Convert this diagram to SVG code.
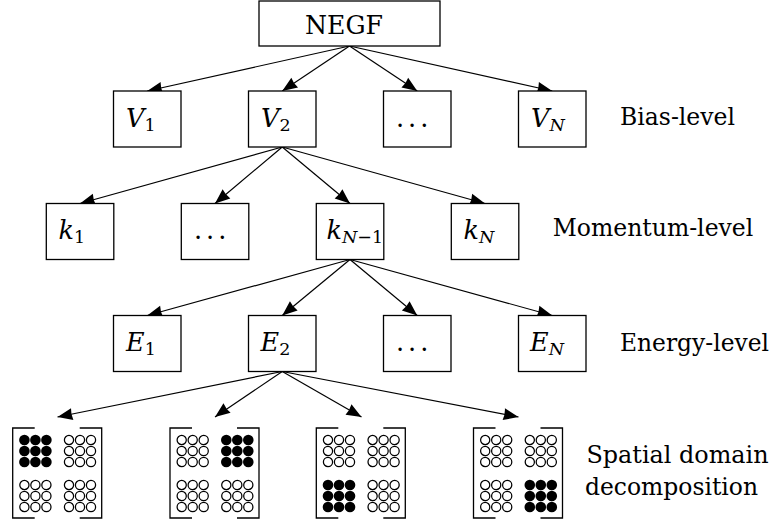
<svg xmlns="http://www.w3.org/2000/svg" width="776" height="522" viewBox="0 0 776 522">
  <style>
    .box { fill: #fff; stroke: #000; stroke-width: 1.3; }
    .edge { fill: none; stroke: #000; stroke-width: 1.2; }
    .brk { fill: none; stroke: #000; stroke-width: 1.3; }
    .tx { font-family: "DejaVu Serif", serif; font-size: 25.5px; fill: #000; }
    .lbl { font-size: 23.5px; }
    .m { font-style: italic; }
    .sub { font-size: 17.5px; font-style: normal; }
    .subi { font-size: 17.5px; font-style: italic; }
    .oc { fill: #fff; stroke: #000; stroke-width: 1.25; }
    .fc { fill: #000; }
    .head { fill: #000; stroke: none; }
  </style>
  <defs>
    <!-- 3x3 block of open sites -->
    <g id="open9">
      <circle class="oc" cx="0" cy="0" r="4.6"/><circle class="oc" cx="11" cy="0" r="4.6"/><circle class="oc" cx="22" cy="0" r="4.6"/>
      <circle class="oc" cx="0" cy="11" r="4.6"/><circle class="oc" cx="11" cy="11" r="4.6"/><circle class="oc" cx="22" cy="11" r="4.6"/>
      <circle class="oc" cx="0" cy="22" r="4.6"/><circle class="oc" cx="11" cy="22" r="4.6"/><circle class="oc" cx="22" cy="22" r="4.6"/>
    </g>
    <!-- 3x3 block of filled (active) sites -->
    <g id="fill9">
      <circle class="fc" cx="0" cy="0" r="5.3"/><circle class="fc" cx="11" cy="0" r="5.3"/><circle class="fc" cx="22" cy="0" r="5.3"/>
      <circle class="fc" cx="0" cy="11" r="5.3"/><circle class="fc" cx="11" cy="11" r="5.3"/><circle class="fc" cx="22" cy="11" r="5.3"/>
      <circle class="fc" cx="0" cy="22" r="5.3"/><circle class="fc" cx="11" cy="22" r="5.3"/><circle class="fc" cx="22" cy="22" r="5.3"/>
    </g>
    <!-- matrix brackets -->
    <path id="brackets" d="M22,0 H0 V90 H22 M67,0 H89 V90 H67"/>
    <!-- arrow tip, pointing along +x with the tip at the origin -->
    <path id="tip" d="M-15,-6 Q-13.5,0 -15,6 L0,0 Z"/>
  </defs>

  <!-- connectors: shafts, then tips rotated into place -->
  <g id="connectors">
    <g class="edge">
      <line x1="349.5" y1="46" x2="147.25" y2="91"/>
      <line x1="349.5" y1="46" x2="282.25" y2="91"/>
      <line x1="349.5" y1="46" x2="417.25" y2="91"/>
      <line x1="349.5" y1="46" x2="552.25" y2="91"/>
      <line x1="282.25" y1="147" x2="80" y2="203.5"/>
      <line x1="282.25" y1="147" x2="215" y2="203.5"/>
      <line x1="282.25" y1="147" x2="350" y2="203.5"/>
      <line x1="282.25" y1="147" x2="485" y2="203.5"/>
      <line x1="350" y1="259.5" x2="147.25" y2="315.5"/>
      <line x1="350" y1="259.5" x2="282.25" y2="315.5"/>
      <line x1="350" y1="259.5" x2="417.25" y2="315.5"/>
      <line x1="350" y1="259.5" x2="552.25" y2="315.5"/>
      <line x1="282.25" y1="371.5" x2="57.5" y2="417"/>
      <line x1="282.25" y1="371.5" x2="215" y2="417"/>
      <line x1="282.25" y1="371.5" x2="361.5" y2="417"/>
      <line x1="282.25" y1="371.5" x2="518.5" y2="417"/>
    </g>
    <g class="head">
      <use href="#tip" transform="translate(147.25,91) rotate(167.46)"/>
      <use href="#tip" transform="translate(282.25,91) rotate(146.06)"/>
      <use href="#tip" transform="translate(417.25,91) rotate(33.94)"/>
      <use href="#tip" transform="translate(552.25,91) rotate(12.54)"/>
      <use href="#tip" transform="translate(80,203.5) rotate(164.39)"/>
      <use href="#tip" transform="translate(215,203.5) rotate(139.91)"/>
      <use href="#tip" transform="translate(350,203.5) rotate(40.09)"/>
      <use href="#tip" transform="translate(485,203.5) rotate(15.61)"/>
      <use href="#tip" transform="translate(147.25,315.5) rotate(164.56)"/>
      <use href="#tip" transform="translate(282.25,315.5) rotate(140.19)"/>
      <use href="#tip" transform="translate(417.25,315.5) rotate(39.81)"/>
      <use href="#tip" transform="translate(552.25,315.5) rotate(15.44)"/>
      <use href="#tip" transform="translate(57.5,417) rotate(168.56)"/>
      <use href="#tip" transform="translate(215,417) rotate(143.39)"/>
      <use href="#tip" transform="translate(361.5,417) rotate(29.91)"/>
      <use href="#tip" transform="translate(518.5,417) rotate(10.91)"/>
    </g>
  </g>

  <!-- root -->
  <g id="negf">
    <rect class="box" x="259" y="1" width="181" height="45"/>
    <text class="tx" x="305" y="34" textLength="78" lengthAdjust="spacingAndGlyphs">NEGF</text>
  </g>

  <!-- bias level -->
  <g id="v1">
    <rect class="box" x="113.5" y="91" width="67.5" height="56"/>
    <text class="tx" x="126" y="127"><tspan class="m">V</tspan><tspan class="sub" dy="4">1</tspan></text>
  </g>
  <g id="v2">
    <rect class="box" x="248.5" y="91" width="67.5" height="56"/>
    <text class="tx" x="261" y="127"><tspan class="m">V</tspan><tspan class="sub" dy="4">2</tspan></text>
  </g>
  <g id="vdots">
    <rect class="box" x="383.5" y="91" width="67.5" height="56"/>
    <text class="tx" x="396" y="127" letter-spacing="4">...</text>
  </g>
  <g id="vN">
    <rect class="box" x="518.5" y="91" width="67.5" height="56"/>
    <text class="tx" x="531" y="127"><tspan class="m">V</tspan><tspan class="subi" dy="4">N</tspan></text>
  </g>
  <g id="bias-label">
    <text class="tx lbl" x="620" y="125" textLength="115" lengthAdjust="spacingAndGlyphs">Bias-level</text>
  </g>

  <!-- momentum level -->
  <g id="k1">
    <rect class="box" x="46.3" y="203.5" width="67.5" height="56"/>
    <text class="tx" x="58.5" y="239"><tspan class="m">k</tspan><tspan class="sub" dy="4">1</tspan></text>
  </g>
  <g id="kdots">
    <rect class="box" x="181.3" y="203.5" width="67.5" height="56"/>
    <text class="tx" x="194" y="239" letter-spacing="4">...</text>
  </g>
  <g id="kNm1">
    <rect class="box" x="316.3" y="203.5" width="67.5" height="56"/>
    <text class="tx" x="326.5" y="239"><tspan class="m">k</tspan><tspan class="subi" dy="4">N</tspan><tspan class="sub">−1</tspan></text>
  </g>
  <g id="kN">
    <rect class="box" x="451.3" y="203.5" width="67.5" height="56"/>
    <text class="tx" x="463.5" y="239"><tspan class="m">k</tspan><tspan class="subi" dy="4">N</tspan></text>
  </g>
  <g id="momentum-label">
    <text class="tx lbl" x="552.7" y="236" textLength="200.6" lengthAdjust="spacingAndGlyphs">Momentum-level</text>
  </g>

  <!-- energy level -->
  <g id="e1">
    <rect class="box" x="113.5" y="315.5" width="67.5" height="56"/>
    <text class="tx" x="126" y="351"><tspan class="m">E</tspan><tspan class="sub" dy="4">1</tspan></text>
  </g>
  <g id="e2">
    <rect class="box" x="248.5" y="315.5" width="67.5" height="56"/>
    <text class="tx" x="260.5" y="351"><tspan class="m">E</tspan><tspan class="sub" dy="4">2</tspan></text>
  </g>
  <g id="edots">
    <rect class="box" x="383.5" y="315.5" width="67.5" height="56"/>
    <text class="tx" x="396" y="351" letter-spacing="4">...</text>
  </g>
  <g id="eN">
    <rect class="box" x="518.5" y="315.5" width="67.5" height="56"/>
    <text class="tx" x="530" y="351"><tspan class="m">E</tspan><tspan class="subi" dy="4">N</tspan></text>
  </g>
  <g id="energy-label">
    <text class="tx lbl" x="620" y="350.5" textLength="149" lengthAdjust="spacingAndGlyphs">Energy-level</text>
  </g>

  <g id="spatial-label">
    <text class="tx lbl" x="586.5" y="463" textLength="182" lengthAdjust="spacingAndGlyphs">Spatial domain</text>
    <text class="tx lbl" x="585" y="495" textLength="173" lengthAdjust="spacingAndGlyphs">decomposition</text>
  </g>

  <!-- spatial domain decomposition: four sub-domain assignments -->
  <g id="domain1" transform="translate(12.7,428)">
    <use href="#brackets" class="brk"/>
    <use href="#fill9" x="11.7" y="12"/>
    <use href="#open9" x="56.3" y="12"/>
    <use href="#open9" x="11.7" y="57"/>
    <use href="#open9" x="56.3" y="57"/>
  </g>
  <g id="domain2" transform="translate(170,428)">
    <use href="#brackets" class="brk"/>
    <use href="#open9" x="11.7" y="12"/>
    <use href="#fill9" x="56.3" y="12"/>
    <use href="#open9" x="11.7" y="57"/>
    <use href="#open9" x="56.3" y="57"/>
  </g>
  <g id="domain3" transform="translate(316.3,428)">
    <use href="#brackets" class="brk"/>
    <use href="#open9" x="11.7" y="12"/>
    <use href="#open9" x="56.3" y="12"/>
    <use href="#fill9" x="11.7" y="57"/>
    <use href="#open9" x="56.3" y="57"/>
  </g>
  <g id="domain4" transform="translate(473.5,428)">
    <use href="#brackets" class="brk"/>
    <use href="#open9" x="11.7" y="12"/>
    <use href="#open9" x="56.3" y="12"/>
    <use href="#open9" x="11.7" y="57"/>
    <use href="#fill9" x="56.3" y="57"/>
  </g>
</svg>
